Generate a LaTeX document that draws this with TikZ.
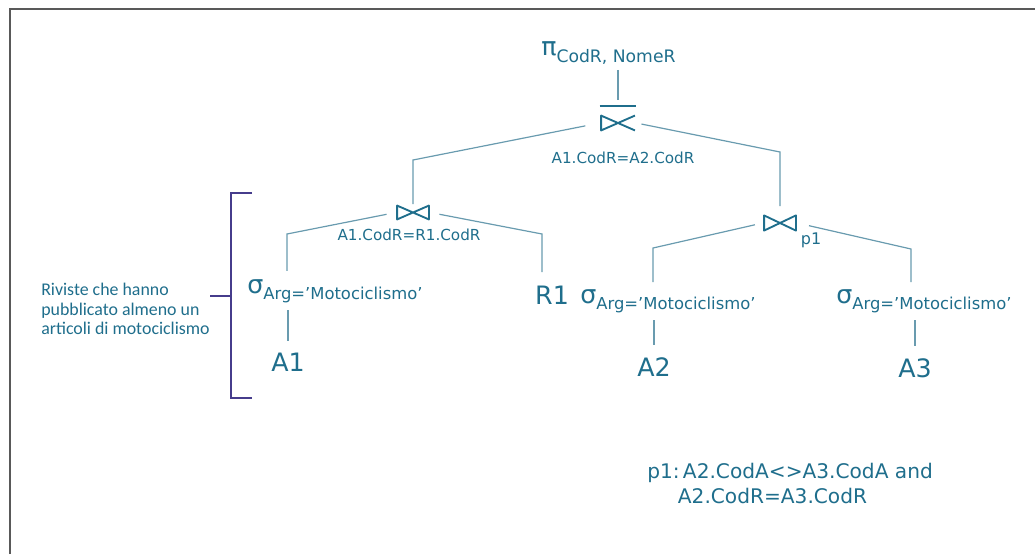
\documentclass[tikz,border=0pt]{standalone}
\usepackage{fontspec}
\setmainfont{DejaVu Sans}
\newfontfamily\notafont{Carlito}
\usetikzlibrary{positioning}
\definecolor{testo}{RGB}{31,110,140}
\definecolor{ramo}{RGB}{105,155,175}
\definecolor{graffa}{RGB}{70,60,140}
\newcommand{\grande}{\fontsize{19}{22}\selectfont}
\newcommand{\piccolo}{\fontsize{12.3}{14}\selectfont}
\newcommand{\selez}{{\grande σ}\raisebox{-5pt}{\piccolo Arg=’Motociclismo’}}
\tikzset{
  ramo/.style={draw=ramo, line width=0.9pt},
  simbolo/.style={draw=testo, line width=1.4pt, line join=round},
  graffa/.style={draw=graffa, line width=1.1pt},
  rel/.style={text=testo, font=\grande, inner sep=0pt},
  cond/.style={text=testo, font=\fontsize{11.4}{13}\selectfont, inner sep=0pt},
  bowtie/.style={minimum width=25.5pt, minimum height=12pt, inner sep=0pt,
    path picture={\draw[simbolo]
      ([shift={(0.8pt,-0.8pt)}]path picture bounding box.north west) --
      ([shift={(-0.8pt,0.8pt)}]path picture bounding box.south east) --
      ([shift={(-0.8pt,-0.8pt)}]path picture bounding box.north east) --
      ([shift={(0.8pt,0.8pt)}]path picture bounding box.south west) -- cycle;}},
  semijoin/.style={minimum width=27pt, minimum height=12.75pt, inner sep=0pt,
    path picture={\draw[simbolo]
      ([shift={(-0.8pt,-0.8pt)}]path picture bounding box.north east) --
      ([shift={(0.8pt,0.8pt)}]path picture bounding box.south west) --
      ([shift={(0.8pt,-0.8pt)}]path picture bounding box.north west) --
      ([shift={(-0.8pt,0.8pt)}]path picture bounding box.south east);}}
}
\begin{document}
\begin{tikzpicture}[x=0.75pt, y=-0.75pt]
\useasboundingbox (0,0) rectangle (1035,554);
\draw[gray!70!black, line width=1.2pt] (10,554) -- (10,9) -- (1035,9);

% proiezione e semi-join in cima
\node[rel, anchor=base west] (proj) at (541,55) {π\raisebox{-5.5pt}{\fontsize{12.9}{15}\selectfont CodR, NomeR}};
\node[semijoin] (sj) at (618,123) {};
\draw[simbolo] ([yshift=6.4pt]sj.north west) -- ([yshift=6.4pt]sj.north east);
\node[cond] (csj) at (623,158) {A1.CodR=A2.CodR};
\draw[ramo, shorten <=4pt, shorten >=11pt] (proj.south -| sj.north) -- (sj.north);

% join di sinistra
\node[bowtie] (jl) at (413,212.5) {};
\node[cond] (cjl) at (409,235) {A1.CodR=R1.CodR};
\node[rel, anchor=base west] (sigA) at (247,293) {\selez};
\node[rel] (A1) at (288,362) {A1};
\node[rel] (R1) at (552,295) {R1};

% join di destra
\node[bowtie, minimum height=13pt] (jr) at (780,223) {};
\node[text=testo, font=\fontsize{12}{14}\selectfont, inner sep=0pt] (p1) at (811,240) {p1};
\node[rel, anchor=base west] (sigB) at (580,303) {\selez};
\node[rel, anchor=base west] (sigC) at (836,303) {\selez};
\node[rel] (A2) at (654,367) {A2};
\node[rel] (A3) at (915,368) {A3};

% rami
\coordinate (gl) at (413,160);
\coordinate (gr) at (780,152);
\coordinate (gl1) at (287,234);
\coordinate (gl2) at (542,234);
\coordinate (gr1) at (653,248);
\coordinate (gr2) at (911,249);
\draw[ramo, shorten <=11pt] (sj.west) -- (gl) -- (gl |- jl.north);
\draw[ramo, shorten <=4pt, shorten >=6pt] (sj.east) -- (gr) -- (gr |- jr.north);
\draw[ramo, shorten <=7pt, shorten >=6pt] (jl.west) -- (gl1) -- (gl1 |- sigA.north);
\draw[ramo, shorten <=7pt, shorten >=10pt] (jl.east) -- (gl2) -- (gl2 |- R1.north);
\draw[ramo, shorten <=6pt, shorten >=5pt] (jr.west) -- (gr1) -- (gr1 |- sigB.north);
\draw[ramo, shorten <=9pt, shorten >=5pt] (jr.east) -- (gr2) -- (gr2 |- sigC.north);
\foreach \s/\r in {sigA/A1, sigB/A2, sigC/A3}
  \draw[ramo, shorten <=5pt, shorten >=9pt] (\r.north |- \s.south) -- (\r.north);

% nota a sinistra con graffa
\node[text=testo, font=\notafont\fontsize{13.4}{14.6}\selectfont, align=left, inner sep=0pt, anchor=west] (nota) at (41,309)
  {Riviste che hanno\\pubblicato almeno un\\articoli di motociclismo};
\coordinate (bt) at (231,193);
\coordinate (bb) at (231,398);
\coordinate (bm) at (231,296);
\draw[graffa] ([xshift=15.75pt]bt) -- (bt) -- (bb) -- ([xshift=15.75pt]bb);
\draw[graffa] (bm) -- ++(-21,0);

% predicato p1
\node[text=testo, font=\fontsize{15.1}{18.75}\selectfont, align=left, inner sep=0pt, anchor=base west] (pred) at (647,503)
  {p1:\,A2.CodA<>A3.CodA and\\\hspace*{23pt}A2.CodR=A3.CodR};
\end{tikzpicture}
\end{document}
